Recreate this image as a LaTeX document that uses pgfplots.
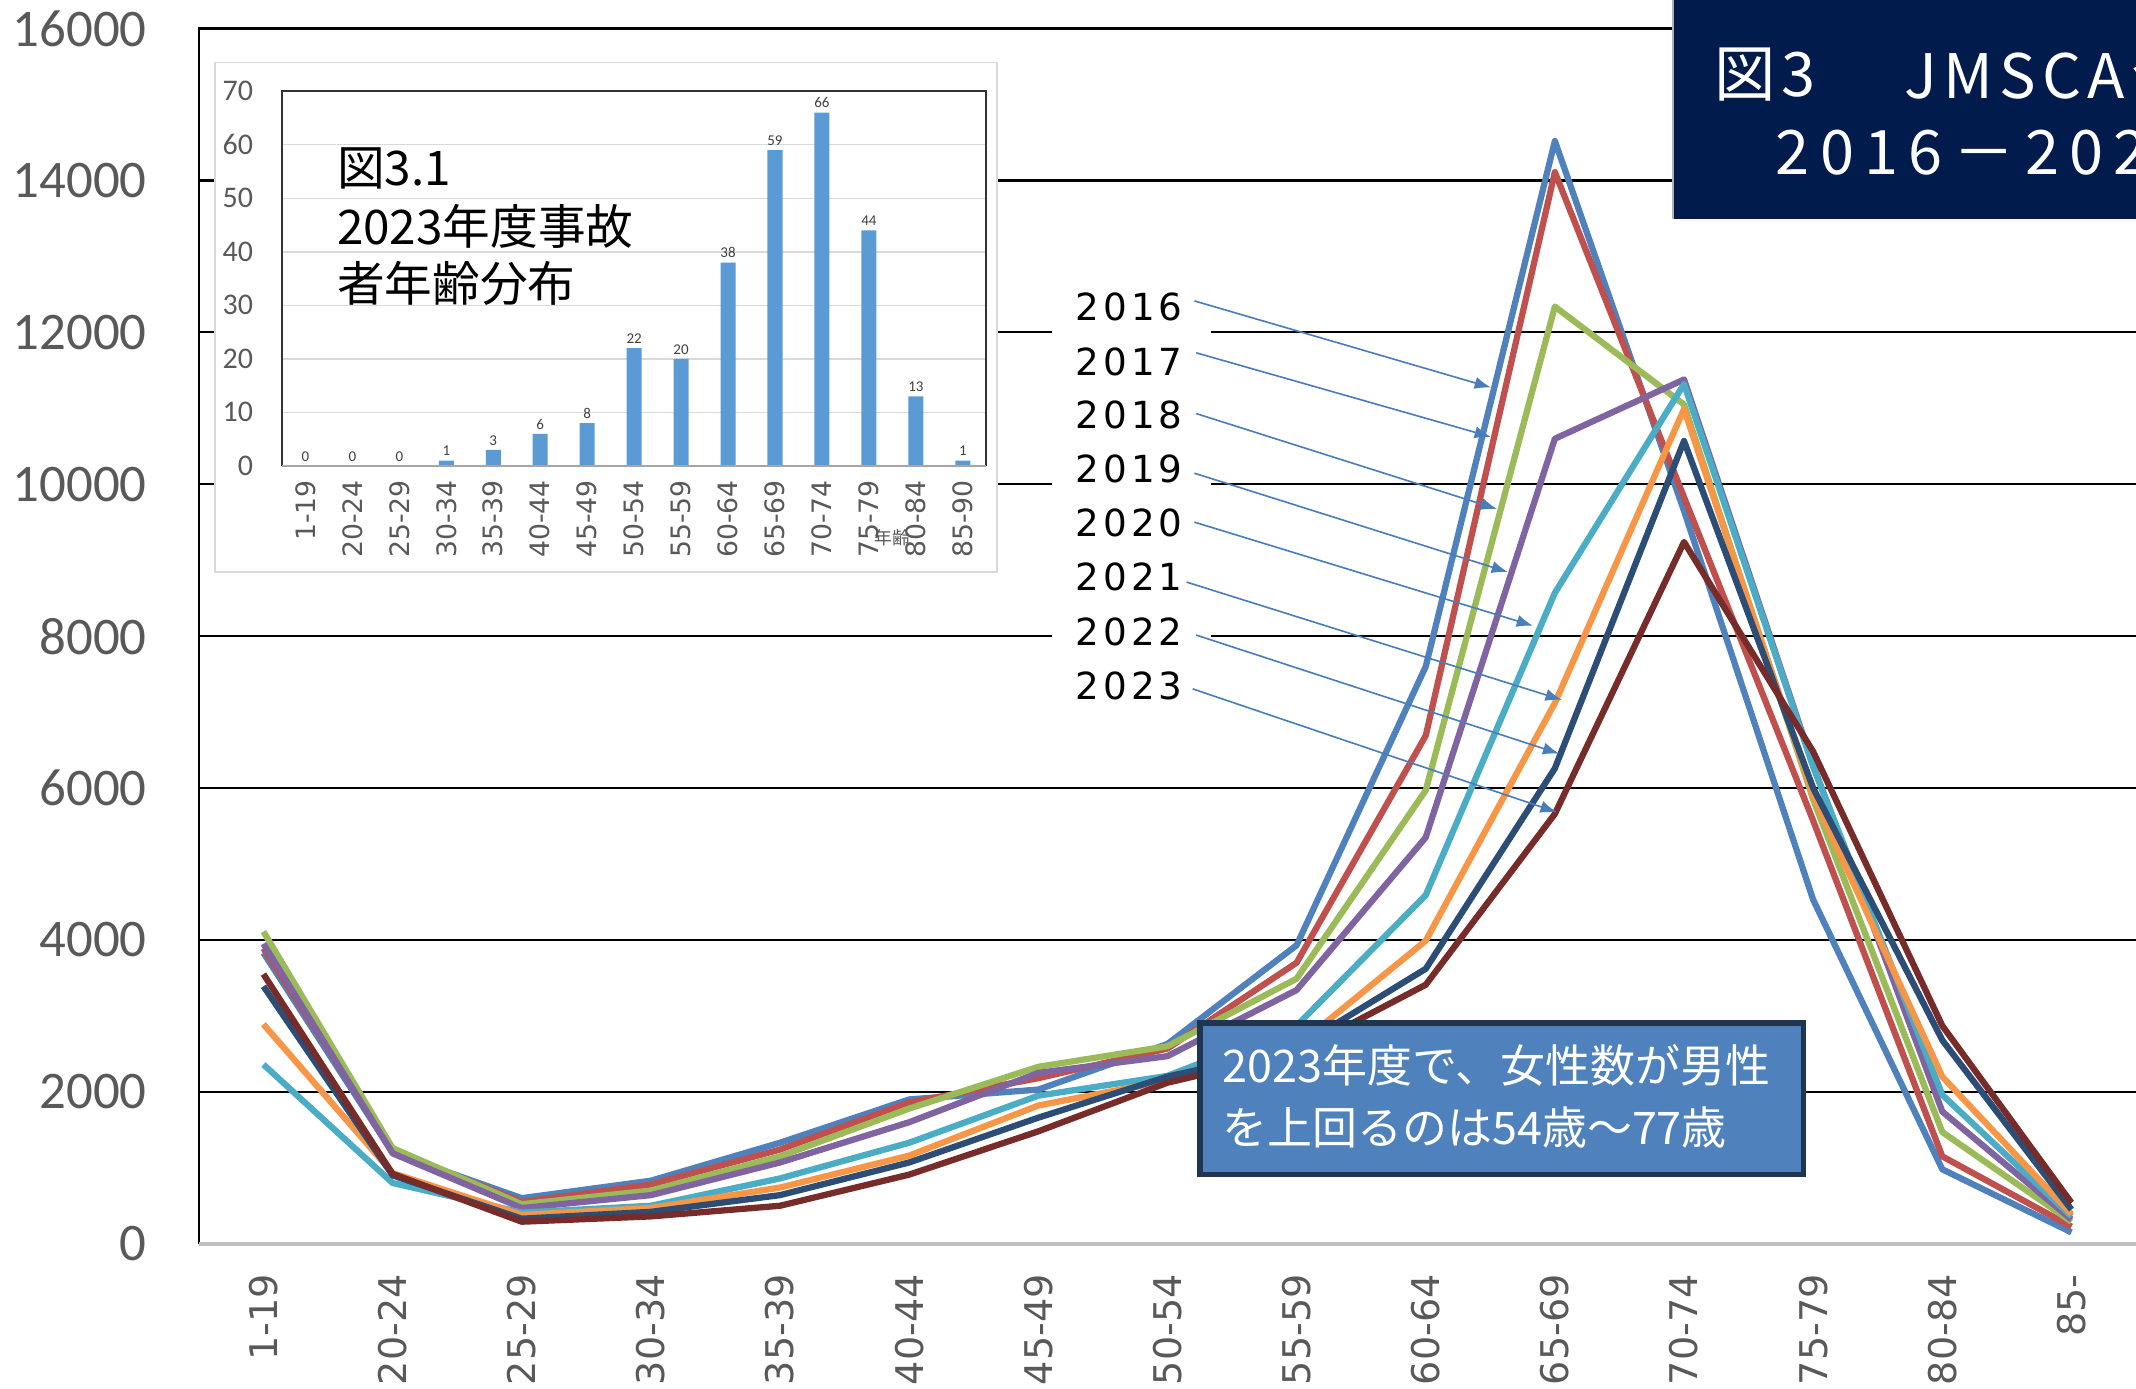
\documentclass[border=0pt]{standalone}
\usepackage{pgfplots}
\pgfplotsset{compat=1.18}
\usepackage{pgfplotstable}
\usepackage{fontspec}
\usetikzlibrary{arrows.meta}
\setmainfont{Carlito}
\newfontfamily\jp{Noto Sans CJK JP}
\newfontfamily\jptitle[LetterSpace=10]{Noto Sans CJK JP}
\newfontfamily\jptitleb[LetterSpace=17]{Noto Sans CJK JP}
\newfontfamily\dejavu{DejaVu Sans}
\newfontfamily\yearfont[LetterSpace=11]{DejaVu Sans}
\newfontfamily\carlito{Carlito}

\definecolor{c16}{HTML}{4F81BD}
\definecolor{c17}{HTML}{C0504D}
\definecolor{c18}{HTML}{9BBB59}
\definecolor{c19}{HTML}{8064A2}
\definecolor{c20}{HTML}{4BACC6}
\definecolor{c21}{HTML}{F79646}
\definecolor{c22}{HTML}{2C4D75}
\definecolor{c23}{HTML}{772C2A}
\definecolor{tickgray}{HTML}{595959}
\definecolor{navy}{HTML}{001B4C}
\definecolor{annot}{HTML}{4F81BD}
\definecolor{annotb}{HTML}{1F3552}
\definecolor{barc}{HTML}{5B9BD5}
\definecolor{arrowc}{HTML}{4A7EBB}

\pgfplotstableread{
x y16 y17 y18 y19 y20 y21 y22 y23
0 3830 3890 4110 3950 2360 2890 3390 3550
1 1200 1230 1260 1190 800 930 900 920
2 600 550 520 470 410 380 330 290
3 830 780 700 640 500 470 420 360
4 1330 1240 1150 1070 860 740 640 500
5 1900 1860 1780 1600 1330 1160 1070 910
6 2030 2180 2330 2250 1950 1820 1660 1480
7 2630 2570 2600 2470 2210 2150 2200 2120
8 3930 3700 3490 3340 2870 2600 2580 2520
9 7600 6690 5970 5350 4590 3990 3620 3410
10 14520 14110 12340 10600 8570 7120 6260 5660
11 9650 9830 11050 11380 11320 10990 10570 9240
12 4530 5570 5850 6300 6280 5900 6000 6480
13 980 1150 1470 1740 1960 2200 2680 2870
14 150 225 290 320 360 390 450 540
}\maindata

\pgfplotstableread{
x n
0 0
1 0
2 0
3 1
4 3
5 6
6 8
7 22
8 20
9 38
10 59
11 66
12 44
13 13
14 1
}\insetdata

\begin{document}
\begin{tikzpicture}
% ---------------- main chart ----------------
\begin{axis}[
  at={(73pt,53pt)}, anchor=south west,
  scale only axis, width=711pt, height=446pt,
  xmin=-0.5, xmax=14.5, ymin=0, ymax=16000,
  xtick={0,...,14},
  xticklabels={1-19,20-24,25-29,30-34,35-39,40-44,45-49,50-54,55-59,60-64,65-69,70-74,75-79,80-84,85-},
  ytick={0,2000,4000,6000,8000,10000,12000,14000,16000},
  yticklabels={0,2000,4000,6000,8000,10000,12000,14000,16000},
  major tick length=0pt,
  ymajorgrids, major grid style={black, line width=0.75pt},
  axis line style={draw=none},
  xticklabel style={font=\dejavu\fontsize{14pt}{14pt}\selectfont, text=tickgray, rotate=90, anchor=east, inner xsep=11pt, inner ysep=0pt},
  yticklabel style={font=\carlito\fontsize{19.4pt}{19.4pt}\selectfont, text=tickgray, anchor=east, inner xsep=19pt, inner ysep=0pt},
  clip=false,
  every axis plot/.append style={line width=2.3pt, line join=round, no markers},
]
\draw[black, line width=1pt] (rel axis cs:0,0) -- (rel axis cs:0,1) -- (rel axis cs:1,1);
\draw[black!25, line width=1.3pt] (rel axis cs:0,0) -- (rel axis cs:1,0);
\addplot[c16] table[x=x, y=y16] {\maindata};
\addplot[c17] table[x=x, y=y17] {\maindata};
\addplot[c18] table[x=x, y=y18] {\maindata};
\addplot[c19] table[x=x, y=y19] {\maindata};
\addplot[c20] table[x=x, y=y20] {\maindata};
\addplot[c21] table[x=x, y=y21] {\maindata};
\addplot[c22] table[x=x, y=y22] {\maindata};
\addplot[c23] table[x=x, y=y23] {\maindata};
\end{axis}

% ---------------- annotations (coordinates in reference pixels) ----------------
\begin{scope}[x=0.5pt, y=-0.5pt, shift={(0pt,509.5pt)}]
  % inset frame
  \fill[white] (158,46) rectangle (732,420);
  \draw[black!15, line width=0.6pt] (158,46) rectangle (732,420);
  % year label area
  \fill[white] (772,200) rectangle (889,525);
  \foreach \yr/\yy in {2016/225.2, 2017/265.5, 2018/304.9, 2019/344.4, 2020/383.8, 2021/423.2, 2022/464, 2023/503.5}{
    \node[anchor=west, inner sep=0pt, font=\yearfont\fontsize{13.7pt}{13.7pt}\selectfont] at (789,\yy) {\yr};
  }
  \begin{scope}[arrowc, line width=0.6pt, -{Latex[length=6pt,width=4.5pt]}]
    \draw (876.8,220.9) -- (1094.5,284.5);
    \draw (878.1,259) -- (1094.5,320.7);
    \draw (878.1,303.6) -- (1099,373.7);
    \draw (876.8,347.4) -- (1107,420);
    \draw (876.8,383.3) -- (1125.4,459.4);
    \draw (871,427.3) -- (1146.5,513.8);
    \draw (878.1,466.2) -- (1144.6,553.3);
    \draw (875.5,505.7) -- (1142.8,596.2);
  \end{scope}
  % annotation box
  \draw[fill=annot, draw=annotb, line width=2pt] (881,751) rectangle (1324,862);
  \node[anchor=west, inner sep=0pt, text=white, font=\jp\fontsize{16.5pt}{16.5pt}\selectfont] at (897,782) {2023年度で、女性数が男性};
  \node[anchor=west, inner sep=0pt, text=white, font=\jp\fontsize{16.5pt}{16.5pt}\selectfont] at (897,828) {を上回るのは54歳～77歳};
  % title box
  \fill[navy] (1228,0) rectangle (1568,161);
  \draw[black!30, line width=0.5pt] (1228,0) -- (1228,161);
  \begin{scope}
    \clip (1228,0) rectangle (1568,161);
    \node[anchor=west, inner sep=0pt, text=white, font=\jptitle\fontsize{22.5pt}{22.5pt}\selectfont] at (1258,55) {図3};
    \node[anchor=west, inner sep=0pt, text=white, font=\jptitle\fontsize{22.5pt}{22.5pt}\selectfont] at (1398,55) {JMSCA会員事故者の年齢分布};
    \node[anchor=west, inner sep=0pt, text=white, font=\jptitleb\fontsize{22.5pt}{22.5pt}\selectfont] at (1303,111) {2016－2023年度};
  \end{scope}
\end{scope}

% ---------------- inset bar chart ----------------
\begin{axis}[
  at={(103.5pt,338.5pt)}, anchor=south west,
  scale only axis, width=258.5pt, height=137.5pt,
  xmin=-0.5, xmax=14.5, ymin=0, ymax=70,
  ybar, bar width=0.32,
  xtick={0,...,14},
  xticklabels={1-19,20-24,25-29,30-34,35-39,40-44,45-49,50-54,55-59,60-64,65-69,70-74,75-79,80-84,85-90},
  ytick={0,10,20,30,40,50,60,70},
  major tick length=0pt,
  ymajorgrids, major grid style={black!15, line width=0.5pt},
  axis line style={draw=none},
  /pgf/number format/assume math mode=true,
  nodes near coords,
  nodes near coords style={font=\carlito\fontsize{5.5pt}{5.5pt}\selectfont, text=black!75, inner sep=1.5pt},
  xticklabel style={font=\dejavu\fontsize{9.8pt}{9.8pt}\selectfont, text=tickgray, rotate=90, anchor=east, inner xsep=5pt, inner ysep=0pt},
  yticklabel style={font=\carlito\fontsize{11pt}{11pt}\selectfont, text=tickgray, anchor=east, inner xsep=10.4pt, inner ysep=0pt},
  clip=false,
]
\draw[black!80, line width=0.6pt] (rel axis cs:0,0) -- (rel axis cs:0,1) -- (rel axis cs:1,1) -- (rel axis cs:1,0);
\addplot[fill=barc, draw=none] table[x=x, y=n] {\insetdata};
\draw[black!35, line width=0.9pt] (rel axis cs:0,0) -- (rel axis cs:1,0);
\end{axis}

\begin{scope}[x=0.5pt, y=-0.5pt, shift={(0pt,509.5pt)}]
  \node[inner sep=0pt, text=tickgray, font=\jp\fontsize{6.5pt}{6.5pt}\selectfont] at (655,395) {年齢};
  \node[anchor=west, inner sep=0pt, font=\jp\fontsize{17.5pt}{17.5pt}\selectfont] at (247,123.5) {図3.1};
  \node[anchor=west, inner sep=0pt, font=\jp\fontsize{17.5pt}{17.5pt}\selectfont] at (247,166) {2023年度事故};
  \node[anchor=west, inner sep=0pt, font=\jp\fontsize{17.5pt}{17.5pt}\selectfont] at (247,208) {者年齢分布};
\end{scope}

\pgfresetboundingbox
\path[use as bounding box] (0pt,0pt) rectangle (784pt,509.5pt);
\end{tikzpicture}
\end{document}
